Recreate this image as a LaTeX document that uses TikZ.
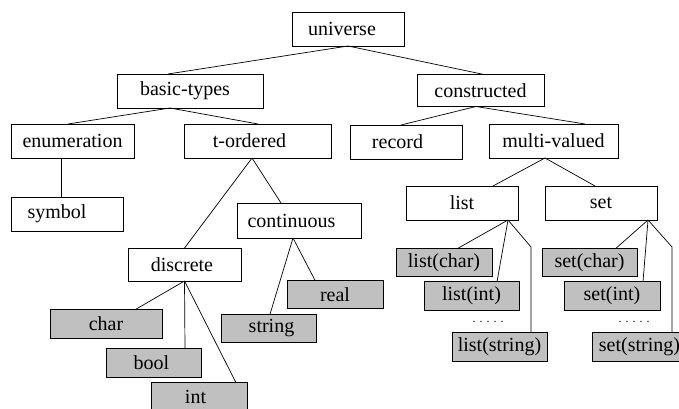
\documentclass[tikz,border=0pt]{standalone}
\usepackage{fontspec}
\setmainfont{Liberation Serif}
\newfontfamily\diagfont{Liberation Serif}
\definecolor{leafgray}{RGB}{192,192,192}
\begin{document}
\begin{tikzpicture}[x=1pt,y=-1pt,
  box/.style={draw=black,line width=0.9pt,fill=white,inner sep=0pt,outer sep=0pt,
    minimum height=34pt,font=\diagfont\fontsize{20}{24}\selectfont},
  leaf/.style={box,fill=leafgray,minimum height=28.5pt},
  txs/.style={execute at begin node={\hspace*{#1}}},
  conn/.style={draw=black,line width=0.7pt},
  dotsrow/.style={inner sep=0pt,font=\diagfont\fontsize{12}{14}\selectfont}]
\useasboundingbox (0,0) rectangle (679,409);
% nodes
\node[box,minimum width=112pt,txs=-12pt] (uni) at (348,29) {universe};
\node[box,minimum width=146pt,txs=-10pt] (bt) at (190,91) {basic-types};
\node[box,minimum width=127pt,minimum height=32pt] (con) at (480.5,90.5) {constructed};
\node[box,minimum width=123pt] (enu) at (72.5,141) {enumeration};
\node[box,minimum width=147pt,txs=-16pt] (tor) at (257.5,141) {t-ordered};
\node[box,minimum width=112pt,txs=-17pt] (rec) at (406,142) {record};
\node[box,minimum width=129pt] (mv) at (553.5,141) {multi-valued};
\node[box,minimum width=112pt,txs=-20pt] (sym) at (67,214) {symbol};
\node[box,minimum width=124pt,minimum height=35pt,txs=-15pt] (cont) at (299,220.5) {continuous};
\node[box,minimum width=112pt] (lst) at (462,203) {list};
\node[box,minimum width=112pt] (st) at (601,203) {set};
\node[box,minimum width=113pt,minimum height=33pt,txs=-5pt] (dis) at (184.5,264.5) {discrete};
\node[leaf,minimum width=112pt] (chr) at (106,324) {char};
\node[leaf,minimum width=95pt,txs=-4pt] (bool) at (153.5,363) {bool};
\node[leaf,minimum width=96pt,txs=-7pt] (int) at (199,397) {int};
\node[leaf,minimum width=95pt,txs=6pt] (str) at (268.5,328.5) {string};
\node[leaf,minimum width=96pt] (real) at (335,294.5) {real};
\node[leaf,minimum width=96pt] (lc) at (444,262.5) {list(char)};
\node[leaf,minimum width=95pt] (li) at (471.5,296) {list(int)};
\node[leaf,minimum width=95pt] (ls) at (499.5,347) {list(string)};
\node[leaf,minimum width=95pt] (sc) at (589.5,262.5) {set(char)};
\node[leaf,minimum width=96pt] (si) at (612,296) {set(int)};
\node[leaf,minimum width=95pt] (ss) at (639.5,347) {set(string)};
\node[dotsrow] (ld) at (488,322) {.\,\,.\,\,.\,\,.\,\,.};
\node[dotsrow] (sd) at (634,322) {.\,\,.\,\,.\,\,.\,\,.};
\coordinate (lb) at (531,247);
\coordinate (sb) at (672,247);
% connectors
\draw[conn] (uni.south) -- ([xshift=-22pt]bt.north);
\draw[conn] (uni.south) -- ([xshift=3.5pt]con.north);
\draw[conn] ([xshift=-20pt]bt.south) -- ([xshift=-4.5pt]enu.north);
\draw[conn] ([xshift=-20pt]bt.south) -- ([xshift=0.5pt]tor.north);
\draw[conn] ([xshift=-11.5pt]enu.south) -- ([xshift=-6pt]sym.north);
\draw[conn] ([xshift=-5.5pt]tor.south) -- (dis.north);
\draw[conn] ([xshift=-5.5pt]tor.south) -- ([xshift=-18pt]cont.north);
\draw[conn] ([xshift=-6pt]cont.south) -- ([xshift=1.5pt]str.north);
\draw[conn] ([xshift=-6pt]cont.south) -- ([xshift=-20pt]real.north);
\draw[conn] (dis.south) -- ([xshift=29pt]chr.north);
\draw[conn] (dis.south) -- ([xshift=31.5pt]bool.north);
\draw[conn] (dis.south) -- ([xshift=37pt]int.north);
\draw[conn] ([xshift=-4.5pt]con.south) -- ([xshift=-5pt]rec.north);
\draw[conn] ([xshift=-4.5pt]con.south) -- ([xshift=31.5pt]mv.north);
\draw[conn] ([xshift=-8.5pt]mv.south) -- ([xshift=31pt]lst.north);
\draw[conn] ([xshift=-8.5pt]mv.south) -- ([xshift=-6pt]st.north);
\draw[conn] ([xshift=46pt]lst.south) -- ([xshift=14pt]lc.north);
\draw[conn] ([xshift=46pt]lst.south) -- ([xshift=25.5pt]li.north);
\draw[conn] ([xshift=46pt]lst.south) -- (lb) -- ([xshift=31.5pt]ls.north);
\draw[conn] ([xshift=47pt]st.south) -- ([xshift=26.5pt]sc.north);
\draw[conn] ([xshift=47pt]st.south) -- ([xshift=31pt]si.north);
\draw[conn] ([xshift=47pt]st.south) -- (sb) -- ([xshift=32.5pt]ss.north);
\end{tikzpicture}
\end{document}
